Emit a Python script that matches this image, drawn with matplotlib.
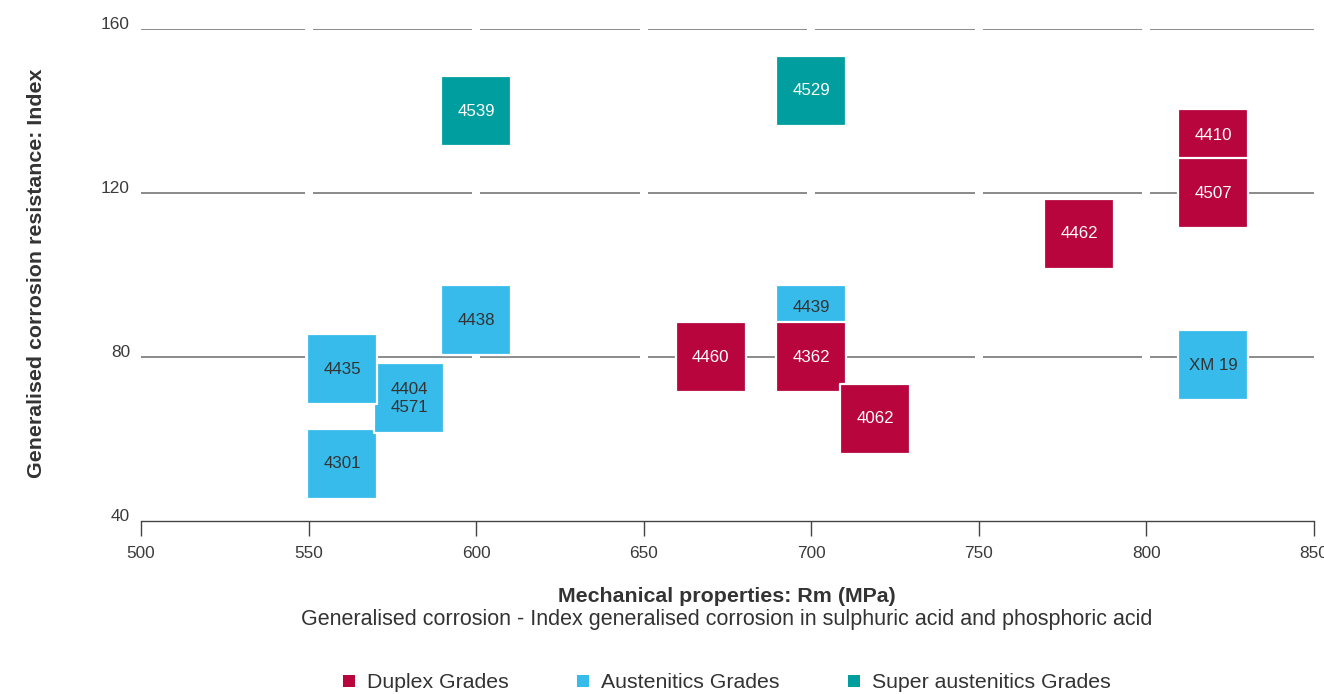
import matplotlib
matplotlib.use("Agg")
import matplotlib.pyplot as plt
from matplotlib.lines import Line2D
from matplotlib.transforms import ScaledTranslation

plt.rcParams['font.family'] = ['Liberation Sans', 'DejaVu Sans']

# ---- data ----
duplex_names = ["4460", "4362", "4062", "4462", "4410", "4507"]
duplex_rm = [670, 700, 719, 780, 820, 820]
duplex_idx = [80, 80, 65, 110, 132, 120]
duplex_label_y = [80, 80, 65, 110, 134, 120]

aust_names = ["4301", "4404\n4571", "4435", "4438", "4439", "XM 19"]
aust_rm = [560, 580, 560, 600, 700, 820]
aust_idx = [54, 70, 77, 89, 89, 78]
aust_label_y = [54, 70, 77, 89, 92, 78]

super_names = ["4539", "4529"]
super_rm = [600, 700]
super_idx = [140, 145]
super_label_y = [140, 145]

x_ticks = [500, 550, 600, 650, 700, 750, 800, 850]
y_ticks = [40, 80, 120, 160]

c_duplex = "#B8053D"
c_aust = "#36BBEA"
c_super = "#009E9E"
txt = "#333333"

fig = plt.figure(figsize=(13.24, 6.94), dpi=100)
ax = fig.add_axes([141/1324, 1 - 521/694, (1314-141)/1324, (521-29)/694])
ax.set_xlim(500, 850)
ax.set_ylim(40, 160)

# gridlines with gaps at x ticks
gap = 1.2
for gy in y_ticks[1:]:
    for i in range(len(x_ticks) - 1):
        x0 = x_ticks[i] + (gap if i > 0 else 0)
        x1 = x_ticks[i + 1] - (gap if i + 1 < len(x_ticks) - 1 else 0)
        ax.plot([x0, x1], [gy, gy], color="#8a8a8a", lw=1.4, zorder=1,
                solid_capstyle='butt')

for s in ["top", "right", "left"]:
    ax.spines[s].set_visible(False)
ax.spines["bottom"].set_color("#444444")
ax.spines["bottom"].set_linewidth(1.0)

ax.set_xticks(x_ticks)
ax.set_yticks(y_ticks)
ax.tick_params(axis='x', length=11, width=1.0, color="#444444", pad=7,
               labelsize=12.4, labelcolor="#3a3a3a", direction='out')
ax.tick_params(axis='y', length=0, pad=8, labelsize=12.4, labelcolor="#3a3a3a")
for lab in ax.get_yticklabels():
    lab.set_transform(lab.get_transform() + ScaledTranslation(0, 4/72, fig.dpi_scale_trans))

msize = 50 ** 2
ax.scatter(aust_rm, aust_idx, s=msize, marker='s', color=c_aust,
           edgecolor='white', linewidth=1.6, zorder=3)
ax.scatter(duplex_rm, duplex_idx, s=msize, marker='s', color=c_duplex,
           edgecolor='white', linewidth=1.6, zorder=4)
ax.scatter(super_rm, super_idx, s=msize, marker='s', color=c_super,
           edgecolor='white', linewidth=1.6, zorder=4)

for n, x, y in zip(aust_names, aust_rm, aust_label_y):
    ax.text(x, y, n, ha='center', va='center', color=txt, fontsize=12.2,
            zorder=6, linespacing=1.25)
for n, x, y in zip(duplex_names, duplex_rm, duplex_label_y):
    ax.text(x, y, n, ha='center', va='center', color='white', fontsize=12.2, zorder=6)
for n, x, y in zip(super_names, super_rm, super_label_y):
    ax.text(x, y, n, ha='center', va='center', color='white', fontsize=12.2, zorder=6)

# axis labels
fig.text(37/1324, 1 - 273/694, "Generalised corrosion resistance: Index",
         rotation=90, ha='center', va='center', fontsize=15.4,
         fontweight='bold', color=txt)
fig.text(727/1324, 1 - 596/694, "Mechanical properties: Rm (MPa)",
         ha='center', va='center', fontsize=15.4, fontweight='bold', color=txt)
fig.text(727/1324, 1 - 619/694,
         "Generalised corrosion - Index generalised corrosion in sulphuric acid and phosphoric acid",
         ha='center', va='center', fontsize=15.5, color=txt)

handles = [Line2D([], [], marker='s', linestyle='none', markersize=8.6,
                  color=c, markeredgewidth=0) for c in (c_duplex, c_aust, c_super)]
leg = fig.legend(handles, ["Duplex Grades", "Austenitics Grades", "Super austenitics Grades"],
                 loc='center', bbox_to_anchor=(727/1324, 1 - 683/694), ncol=3,
                 frameon=False, fontsize=15.3, handlelength=0.6, handletextpad=0.55,
                 columnspacing=3.2, borderaxespad=0)
for t in leg.get_texts():
    t.set_color(txt)

fig.savefig("out.png", dpi=100)
